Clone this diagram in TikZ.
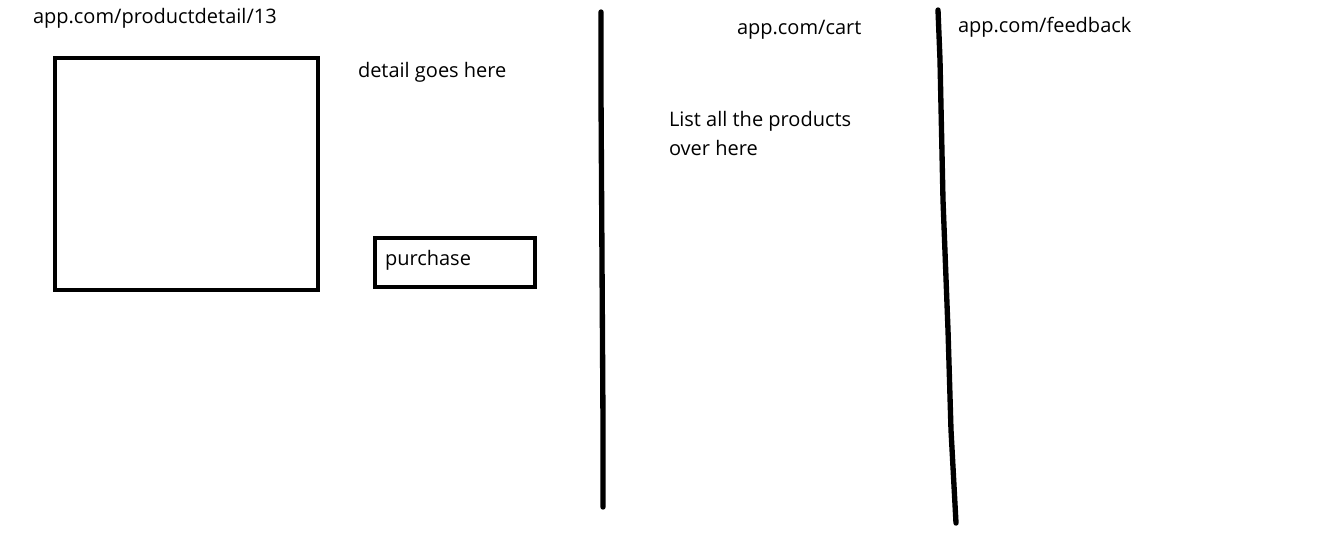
\documentclass[tikz,border=0pt]{standalone}
\usepackage{fontspec}
\setmainfont{Open Sans}
\begin{document}
\begin{tikzpicture}[x=0.75pt,y=-0.75pt,
  every node/.style={inner sep=0pt, outer sep=0pt},
  lbl/.style={anchor=base west, font=\fontsize{15}{18}\selectfont},
  frame/.style={draw, line width=3.2pt},
  stroke/.style={line width=4pt, line cap=round, line join=round}]
\useasboundingbox[fill=white] (0,0) rectangle (1342,537);
% left panel
\node[lbl] (url1) at (33,23) {app.com/productdetail/13};
\node[frame, minimum width=197.25pt, minimum height=174pt] (img) at (186.5,174) {};
\node[lbl] (detail) at (358,77) {detail goes here};
\node[frame, minimum width=120pt, minimum height=36.75pt] (buy) at (455,262.5) {};
\node[lbl] (buytxt) at (385,265) {purchase};
% dividers
\coordinate (d1a) at (601,12);
\coordinate (d1b) at (601,95);
\coordinate (d1c) at (602,262);
\coordinate (d1d) at (603,423);
\coordinate (d1e) at (603,507);
\draw[stroke] (d1a) -- (d1b) -- (d1c) -- (d1d) -- (d1e);
\coordinate (d2a) at (938,10);
\coordinate (d2b) at (940,60);
\coordinate (d2c) at (943,200);
\coordinate (d2d) at (948,330);
\coordinate (d2e) at (951,430);
\coordinate (d2f) at (956,523);
\draw[stroke] (d2a) -- (d2b) -- (d2c) -- (d2d) -- (d2e) -- (d2f);
% cart panel
\node[lbl] (url2) at (737,34) {app.com/cart};
\node[lbl] (list1) at (669,126) {List all the products};
\node[lbl] (list2) at (669,155) {over here};
% feedback panel
\node[lbl] (url3) at (958,32) {app.com/feedback};
\end{tikzpicture}
\end{document}
